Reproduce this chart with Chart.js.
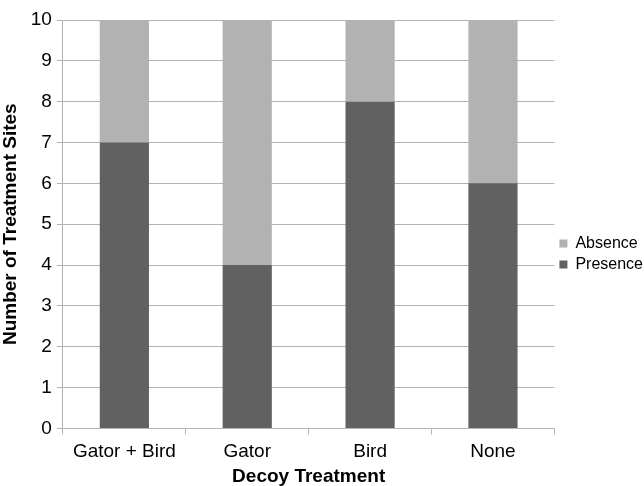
<!DOCTYPE html>
<html>
<head>
<meta charset="utf-8">
<script src="https://cdn.jsdelivr.net/npm/chart.js@4/dist/chart.umd.min.js"></script>
<style>
  body { margin: 0; background: #fff; }
  #wrap { width: 644px; height: 486px; }
</style>
</head>
<body>
<div id="wrap"><canvas id="decoy-chart"></canvas></div>
<script>
// decoy treatment chart
const categories = ['Gator + Bird', 'Gator', 'Bird', 'None'];
const presence = [7, 4, 8, 6];
const absence = [3, 6, 2, 4];

const gridGrey = '#b3b3b3';
const font = { family: '"Liberation Sans", Arial, sans-serif', size: 19 };

new Chart(document.getElementById('decoy-chart'), {
    type: 'bar',
    data: {
        labels: categories,
        datasets: [{
            label: 'Presence',
            data: presence,
            backgroundColor: '#616161',
            barPercentage: 0.52,
            categoryPercentage: 0.77
        }, {
            label: 'Absence',
            data: absence,
            backgroundColor: '#b2b2b2',
            barPercentage: 0.52,
            categoryPercentage: 0.77
        }]
    },
    options: {
        responsive: true,
        maintainAspectRatio: false,
        animation: false,
        layout: { padding: { top: 20, right: -9, bottom: -2, left: -1 } },
        plugins: {
            tooltip: { enabled: false },
            legend: {
                position: 'right',
                reverse: true,
                labels: {
                    boxWidth: 8,
                    boxHeight: 8,
                    padding: 5,
                    color: '#000',
                    font: { family: font.family, size: 16 }
                }
            }
        },
        scales: {
            x: {
                stacked: true,
                grid: {
                    offset: true,
                    drawOnChartArea: false,
                    color: gridGrey,
                    tickLength: 6
                },
                border: { color: gridGrey },
                ticks: { color: '#000', font: font, padding: 6 },
                title: {
                    display: true,
                    text: 'Decoy Treatment',
                    color: '#000',
                    font: { family: font.family, size: 19, weight: 'bold' },
                    padding: { top: -4, bottom: 0 }
                }
            },
            y: {
                stacked: true,
                min: 0,
                max: 10,
                ticks: { stepSize: 1, color: '#000', font: font, padding: 5 },
                grid: { color: gridGrey, tickLength: 6 },
                border: { color: gridGrey },
                title: {
                    display: true,
                    text: 'Number of Treatment Sites',
                    color: '#000',
                    font: { family: font.family, size: 19, weight: 'bold' },
                    padding: { top: 0, bottom: 4 }
                }
            }
        }
    }
});
</script>
</body>
</html>
